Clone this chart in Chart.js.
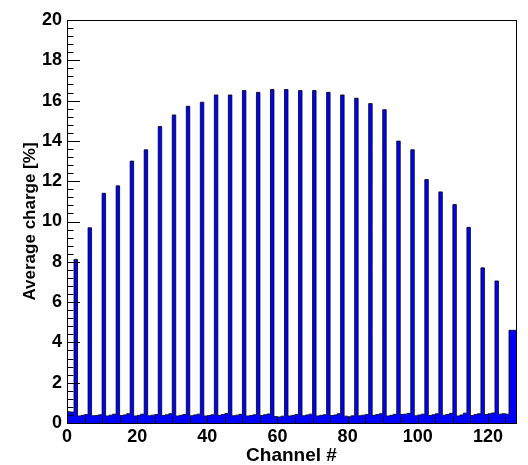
<!DOCTYPE html>
<html>
<head>
<meta charset="utf-8">
<script src="https://cdn.jsdelivr.net/npm/chart.js@4/dist/chart.umd.min.js"></script>
<style>
html,body{margin:0;padding:0;background:#fff;}
canvas{display:block;}
</style>
</head>
<body>
<canvas id="c" width="528" height="465"></canvas>
<script>
// Peak channels (every 4th channel: 3, 7, ..., 127) and their average charge [%]
const peakChannels = [3,7,11,15,19,23,27,31,35,39,43,47,51,55,59,63,67,71,75,79,83,87,91,95,99,103,107,111,115,119,123,127];
const peakValues = [8.12,9.69,11.40,11.77,13.00,13.56,14.71,15.29,15.72,15.92,16.28,16.28,16.50,16.41,16.55,16.55,
                    16.50,16.50,16.41,16.28,16.12,15.85,15.55,13.99,13.56,12.08,11.47,10.84,9.71,7.70,7.05,4.60];
// Remaining (non-peak) channels, in channel order
const baseValues = [0.56,0.56,0.54, 0.35,0.38,0.42, 0.36,0.37,0.41, 0.35,0.39,0.44,
                    0.37,0.40,0.46, 0.35,0.38,0.44, 0.36,0.39,0.42, 0.37,0.41,0.46,
                    0.35,0.38,0.42, 0.36,0.40,0.44, 0.35,0.37,0.41, 0.38,0.42,0.47,
                    0.36,0.39,0.43, 0.35,0.37,0.41, 0.37,0.41,0.45, 0.32,0.30,0.34,
                    0.35,0.38,0.42, 0.36,0.40,0.44, 0.35,0.38,0.41, 0.37,0.40,0.46,
                    0.34,0.31,0.36, 0.36,0.39,0.42, 0.38,0.42,0.46, 0.35,0.38,0.43,
                    0.42,0.44,0.48, 0.36,0.40,0.44, 0.37,0.41,0.46, 0.39,0.42,0.48,
                    0.35,0.40,0.49, 0.37,0.42,0.46, 0.42,0.46,0.50, 0.44,0.46,0.44];
const xTickValues = [0,20,40,60,80,100,120];
const yTickValues = [0,2,4,6,8,10,12,14,16,18,20];
const xTitle = 'Channel #';
const yTitle = 'Average charge [%]';
const nChannels = 128;

// Build the per-channel histogram contents
const charge = [];
let bi = 0;
for (let ch = 0; ch < nChannels; ch++) {
  const pi = peakChannels.indexOf(ch);
  charge.push(pi >= 0 ? peakValues[pi] : baseValues[bi++]);
}
// Step contour points at bin edges
const pts = charge.map((v, i) => ({x: i, y: v}));
pts.push({x: nChannels, y: charge[nChannels - 1]});

const FONT = "'Liberation Sans', Arial, Helvetica, sans-serif";

const frameTicks = {
  id: 'frameTicks',
  afterDatasetsDraw(chart) {
    const ctx = chart.ctx, a = chart.chartArea;
    const xs = chart.scales.x, ys = chart.scales.y;
    ctx.save();
    ctx.strokeStyle = '#000';
    ctx.lineWidth = 1;
    ctx.beginPath();
    // y ticks: major every 2, minor every 0.4
    for (let k = 0; k <= 50; k++) {
      const v = k * 0.4;
      const y = Math.round(ys.getPixelForValue(v)) + 0.5;
      const len = (k % 5 === 0) ? 13 : 6.5;
      ctx.moveTo(a.left, y); ctx.lineTo(a.left + len, y);
    }
    // x ticks: every 5 channels
    for (let v = 0; v <= nChannels; v += 5) {
      const x = Math.round(xs.getPixelForValue(v)) + 0.5;
      ctx.moveTo(x, a.bottom); ctx.lineTo(x, a.bottom - 6);
    }
    ctx.stroke();
    ctx.strokeRect(Math.round(a.left) + 0.5, Math.round(a.top) + 0.5,
                   Math.round(a.right - a.left), Math.round(a.bottom - a.top));
    ctx.restore();
  }
};

new Chart(document.getElementById('c'), {
  type: 'line',
  data: {
    datasets: [{
      data: pts,
      stepped: 'after',
      fill: 'origin',
      backgroundColor: '#0000ff',
      borderColor: '#000000',
      borderWidth: 0.8,
      pointRadius: 0,
      tension: 0
    }]
  },
  options: {
    responsive: false,
    animation: false,
    events: [],
    layout: {padding: {left: 0, right: 12, top: 20, bottom: 0}},
    plugins: {legend: {display: false}, tooltip: {enabled: false}},
    scales: {
      x: {
        type: 'linear', min: 0, max: nChannels,
        afterBuildTicks: s => { s.ticks = xTickValues.map(v => ({value: v})); },
        afterFit: s => { s.height = 42; },
        grid: {display: false, drawTicks: false},
        border: {display: true, color: '#000', width: 1},
        ticks: {color: '#000', font: {family: FONT, size: 18, weight: 'bold'}, padding: 3, maxRotation: 0, autoSkip: false},
        title: {display: true, text: xTitle, color: '#000', font: {family: FONT, size: 19, weight: 'bold'}, padding: {top: 0, bottom: -2}}
      },
      y: {
        type: 'linear', min: 0, max: 20,
        afterBuildTicks: s => { s.ticks = yTickValues.map(v => ({value: v})); },
        afterFit: s => { s.width = 67; },
        grid: {display: false, drawTicks: false},
        border: {display: true, color: '#000', width: 1},
        ticks: {color: '#000', font: {family: FONT, size: 18, weight: 'bold'}, padding: 5},
        title: {display: true, text: yTitle, color: '#000', font: {family: FONT, size: 17, weight: 'bold'}, padding: {top: 20, bottom: 0}}
      }
    }
  },
  plugins: [frameTicks]
});
</script>
</body>
</html>
